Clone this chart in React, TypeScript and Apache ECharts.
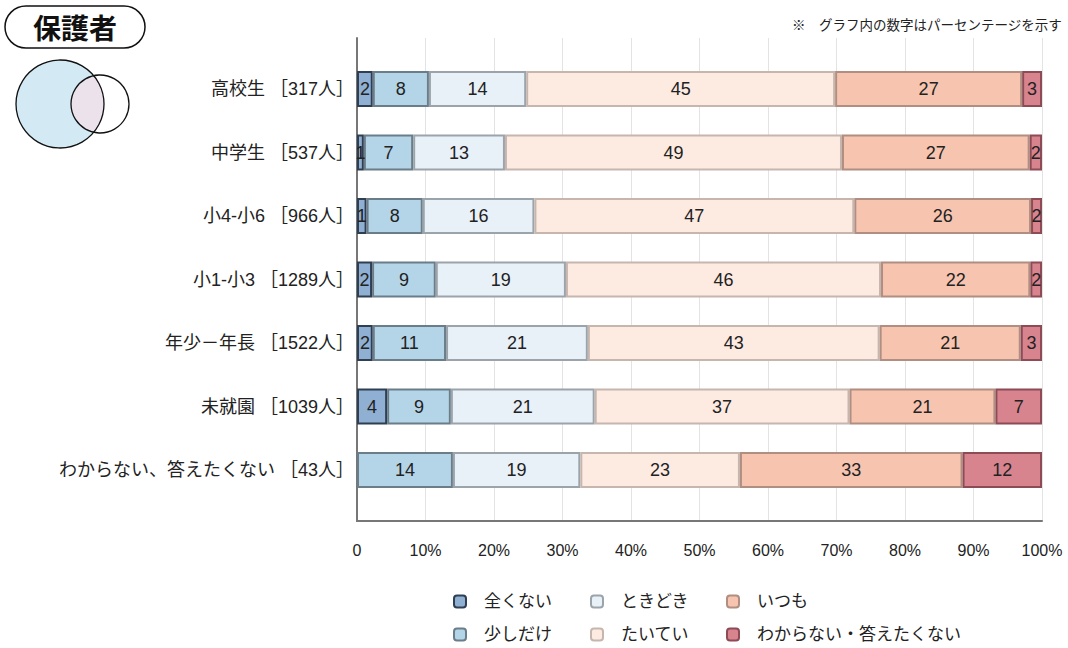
import React, { useEffect, useRef } from "react";
import * as echarts from "echarts";

const categories = [
  "高校生 ［317人］",
  "中学生 ［537人］",
  "小4-小6 ［966人］",
  "小1-小3 ［1289人］",
  "年少－年長 ［1522人］",
  "未就園 ［1039人］",
  "わからない、答えたくない ［43人］",
];

const seriesNames = ["全くない", "少しだけ", "ときどき", "たいてい", "いつも", "わからない・答えたくない"];

const zenkunai = [2.3, 1.0, 1.4, 2.2, 2.3, 4.4, 0];
const sukoshi = [8.2, 7.2, 8.2, 9.3, 10.7, 9.3, 14.0];
const tokidoki = [14.2, 13.4, 16.3, 19.0, 20.7, 21.0, 18.6];
const taitei = [45.1, 49.2, 46.7, 46.0, 42.6, 37.2, 23.3];
const itsumo = [27.3, 27.4, 25.8, 21.8, 20.6, 21.3, 32.5];
const wakaranai = [2.9, 1.8, 1.6, 1.7, 3.1, 6.8, 11.6];

const fills = ["#8fb0d3", "#b4d5e7", "#e8f0f8", "#fdebe2", "#f7c4b0", "#d7848f"];
const borders = ["#2f3e50", "#6b7d88", "#9ba4ab", "#c6b6ae", "#b08e82", "#8c4b55"];

const FONT = "'Liberation Sans', 'Noto Sans CJK JP', sans-serif";

echarts.graphic.registerShape(
  "lens",
  echarts.graphic.extendPath("M93.7 75.7 A29 29 0 0 0 93.7 132.3 A44 44 0 0 0 93.7 75.7 Z", {})
);

export default function App() {
  const ref = useRef<HTMLDivElement>(null);
  useEffect(() => {
    if (!ref.current) return;
    const chart = echarts.init(ref.current, undefined, { renderer: "svg" });
    const allData = [zenkunai, sukoshi, tokidoki, taitei, itsumo, wakaranai];
    const series = allData.map((arr, i) => ({
      name: seriesNames[i],
      type: "bar",
      stack: "total",
      xAxisIndex: 1,
      yAxisIndex: 1,
      barWidth: 36,
      data: arr.map((v) => (v === 0 ? "-" : v)),
      itemStyle: { color: fills[i], borderColor: borders[i], borderWidth: 2 },
      label: {
        show: true,
        position: "inside",
        color: "#222",
        fontSize: 18,
        fontFamily: FONT,
        formatter: (p: any) => String(Math.round(p.value)),
      },
    }));
    const legendPos = [
      [448, 588],
      [448, 621],
      [585, 588],
      [585, 621],
      [721, 588],
      [721, 621],
    ];
    const legends = seriesNames.map((n, i) => ({
      left: legendPos[i][0],
      top: legendPos[i][1],
      itemWidth: 12,
      itemHeight: 12,
      data: [n],
      textStyle: { fontSize: 17, color: "#222", fontFamily: FONT, padding: [0, 0, 0, 13] },
    }));
    chart.setOption({
      animation: false,
      grid: [
        { left: 357, top: 38, width: 685, height: 483, containLabel: false },
        { left: 357, top: 57.25, width: 685, height: 444.5, containLabel: false },
      ],
      xAxis: [
        {
          gridIndex: 0,
          type: "value",
          min: 0,
          max: 100,
          interval: 10,
          axisLine: { show: true, lineStyle: { color: "#777", width: 2 } },
          axisTick: { show: false },
          splitLine: { show: true, lineStyle: { color: "#e3e3e3", width: 1 } },
          axisLabel: {
            margin: 21,
            fontSize: 16,
            color: "#222",
            fontFamily: FONT,
            formatter: (v: number) => (v === 0 ? "0" : v + "%"),
          },
        },
        {
          gridIndex: 1,
          type: "value",
          min: 0,
          max: 100,
          show: false,
        },
      ],
      yAxis: [
        {
          gridIndex: 0,
          type: "value",
          min: 0,
          max: 1,
          axisLine: { show: true, lineStyle: { color: "#777", width: 2 } },
          axisTick: { show: false },
          axisLabel: { show: false },
          splitLine: { show: false },
        },
        {
          gridIndex: 1,
          type: "category",
          inverse: true,
          data: categories,
          axisLine: { show: false },
          axisTick: { show: false },
          axisLabel: { margin: 3, fontSize: 18, color: "#222", fontFamily: FONT },
        },
      ],
      legend: legends,
      series,
      graphic: [
        {
          type: "rect",
          shape: { x: 5, y: 6, width: 140, height: 42, r: 21 },
          style: { fill: "#fff", stroke: "#111", lineWidth: 1.5 },
        },
        {
          type: "text",
          x: 75,
          y: 27,
          style: {
            text: "保護者",
            fontSize: 28,
            fontWeight: "bold",
            fontFamily: "'Noto Sans CJK JP', sans-serif",
            fill: "#111",
            align: "center",
            verticalAlign: "middle",
          },
        },
        {
          type: "circle",
          shape: { cx: 60, cy: 104, r: 44 },
          style: { fill: "#d3eaf5", stroke: "none" },
        },
        {
          type: "lens",
          x: 0,
          y: 0,
          style: { fill: "#ece2ec", stroke: "none" },
        },
        {
          type: "circle",
          shape: { cx: 60, cy: 104, r: 44 },
          style: { fill: "none", stroke: "#111", lineWidth: 1.3 },
        },
        {
          type: "circle",
          shape: { cx: 100, cy: 104, r: 29 },
          style: { fill: "none", stroke: "#111", lineWidth: 1.3 },
        },
        {
          type: "text",
          right: 6,
          top: 17,
          style: {
            text: "※　グラフ内の数字はパーセンテージを示す",
            fontSize: 13.5,
            fontFamily: "'Noto Sans CJK JP', sans-serif",
            fill: "#222",
          },
        },
      ],
    });
    return () => chart.dispose();
  }, []);
  return (
    <div
      ref={ref}
      style={{ position: "fixed", left: 0, top: 0, width: 1068, height: 648, background: "#fff" }}
    />
  );
}
